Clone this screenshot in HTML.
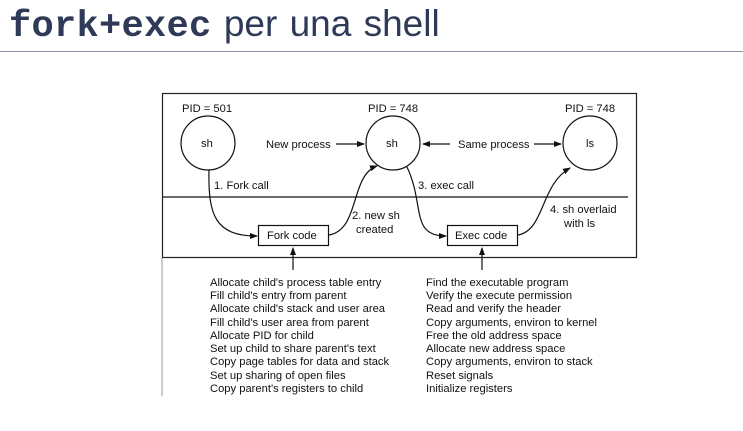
<!DOCTYPE html>
<html><head><meta charset="utf-8"><style>
body{margin:0;width:743px;height:431px;background:#fff;overflow:hidden;position:relative}
.t{position:absolute;left:9px;top:1px;font-size:37px;line-height:46px;color:#2e3a57;font-family:"Liberation Sans",sans-serif;white-space:nowrap;word-spacing:2px}
.t b{font-family:"Liberation Mono",monospace;font-weight:bold;letter-spacing:0.3px}
.hr{position:absolute;left:0;top:51px;width:743px;height:1px;background:#8a93a8}
svg{position:absolute;left:0;top:0}
svg text{font-family:"Liberation Sans",sans-serif;font-size:11.2px;fill:#111}
</style></head><body>
<div class="t"><b>fork+exec</b> per una shell</div>
<div class="hr"></div>
<svg width="743" height="431" viewBox="0 0 743 431">
<defs><marker id="a" markerWidth="8" markerHeight="6" refX="7" refY="3" orient="auto" markerUnits="userSpaceOnUse"><path d="M0,0L8,3L0,6z" fill="#111"/></marker></defs>
<g stroke="#111" fill="none" stroke-width="1.2">
<rect x="162.5" y="93.5" width="474" height="164" stroke="#222"/>
<line x1="162" y1="258" x2="162" y2="396" stroke="#aaa"/>
<line x1="162" y1="197" x2="628" y2="197"/>
<circle cx="208" cy="143" r="27"/>
<circle cx="393" cy="143" r="27"/>
<circle cx="590" cy="143" r="27"/>
<rect x="258.5" y="225.5" width="70" height="20"/>
<rect x="447.5" y="225.5" width="70" height="20"/>
<line x1="336" y1="144" x2="364" y2="144" marker-end="url(#a)"/>
<line x1="450" y1="144" x2="423" y2="144" marker-end="url(#a)"/>
<line x1="534" y1="144" x2="561" y2="144" marker-end="url(#a)"/>
<path d="M209,170 C208,215 215,236 257,236" marker-end="url(#a)"/>
<path d="M329,235 C360,230 350,175 377,166" marker-end="url(#a)"/>
<path d="M407,167 C425,205 410,236 446,236" marker-end="url(#a)"/>
<path d="M518,235 C545,230 540,185 570,168" marker-end="url(#a)"/>
<line x1="293" y1="270" x2="293" y2="248" marker-end="url(#a)"/>
<line x1="482" y1="270" x2="482" y2="248" marker-end="url(#a)"/>
</g>
<text x="182" y="112">PID = 501</text>
<text x="368" y="112">PID = 748</text>
<text x="565" y="112">PID = 748</text>
<text x="201" y="147">sh</text>
<text x="386" y="147">sh</text>
<text x="586" y="147">ls</text>
<text x="266" y="148">New process</text>
<text x="458" y="148">Same process</text>
<text x="214" y="189">1. Fork call</text>
<text x="418" y="189">3. exec call</text>
<text x="352" y="219">2. new sh</text>
<text x="356" y="233">created</text>
<text x="550" y="213">4. sh overlaid</text>
<text x="564" y="227">with ls</text>
<text x="267" y="239">Fork code</text>
<text x="455" y="239">Exec code</text>
<g>
<text x="210" y="286">Allocate child's process table entry</text>
<text x="210" y="299">Fill child's entry from parent</text>
<text x="210" y="312">Allocate child's stack and user area</text>
<text x="210" y="326">Fill child's user area from parent</text>
<text x="210" y="339">Allocate PID for child</text>
<text x="210" y="352">Set up child to share parent's text</text>
<text x="210" y="365">Copy page tables for data and stack</text>
<text x="210" y="379">Set up sharing of open files</text>
<text x="210" y="392">Copy parent's registers to child</text>
<text x="426" y="286">Find the executable program</text>
<text x="426" y="299">Verify the execute permission</text>
<text x="426" y="312">Read and verify the header</text>
<text x="426" y="326">Copy arguments, environ to kernel</text>
<text x="426" y="339">Free the old address space</text>
<text x="426" y="352">Allocate new address space</text>
<text x="426" y="365">Copy arguments, environ to stack</text>
<text x="426" y="379">Reset signals</text>
<text x="426" y="392">Initialize registers</text>
</g>
</svg>
</body></html>
